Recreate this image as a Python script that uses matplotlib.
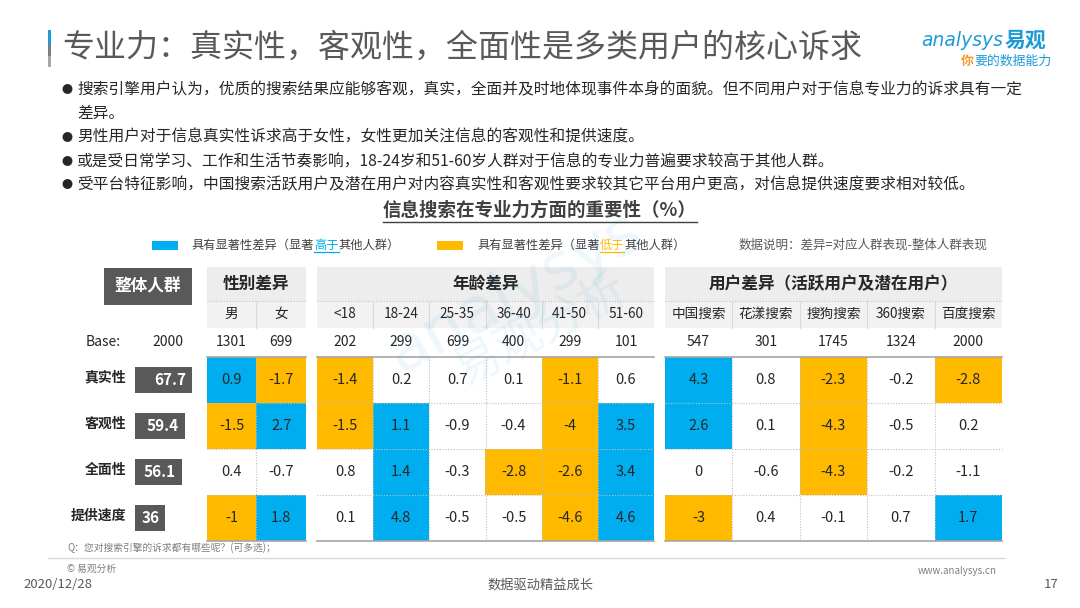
import matplotlib
matplotlib.use('Agg')
import matplotlib.pyplot as plt
from matplotlib.patches import Rectangle
import numpy as np

plt.rcParams['font.family'] = ['Noto Sans CJK SC', 'DejaVu Sans']

# ---------------- data ----------------
title = '专业力：真实性，客观性，全面性是多类用户的核心诉求'
bullets = [
    '搜索引擎用户认为，优质的搜索结果应能够客观，真实，全面并及时地体现事件本身的面貌。但不同用户对于信息专业力的诉求具有一定',
    '男性用户对于信息真实性诉求高于女性，女性更加关注信息的客观性和提供速度。',
    '或是受日常学习、工作和生活节奏影响，18-24岁和51-60岁人群对于信息的专业力普遍要求较高于其他人群。',
    '受平台特征影响，中国搜索活跃用户及潜在用户对内容真实性和客观性要求较其它平台用户更高，对信息提供速度要求相对较低。',
]
bullet1_cont = '差异。'
chart_title = '信息搜索在专业力方面的重要性（%）'

dims = ['真实性', '客观性', '全面性', '提供速度']
overall = [67.7, 59.4, 56.1, 36]
overall_base = 2000

gender_cols = ['男', '女']
gender_base = [1301, 699]
gender_vals = [[0.9, -1.7], [-1.5, 2.7], [0.4, -0.7], [-1, 1.8]]
gender_sig = [[1, -1], [-1, 1], [0, 0], [-1, 1]]

age_cols = ['<18', '18-24', '25-35', '36-40', '41-50', '51-60']
age_base = [202, 299, 699, 400, 299, 101]
age_vals = [[-1.4, 0.2, 0.7, 0.1, -1.1, 0.6],
            [-1.5, 1.1, -0.9, -0.4, -4, 3.5],
            [0.8, 1.4, -0.3, -2.8, -2.6, 3.4],
            [0.1, 4.8, -0.5, -0.5, -4.6, 4.6]]
age_sig = [[-1, 0, 0, 0, -1, 0],
           [-1, 1, 0, 0, -1, 1],
           [0, 1, 0, -1, -1, 1],
           [0, 1, 0, 0, -1, 1]]

user_cols = ['中国搜索', '花漾搜索', '搜狗搜索', '360搜索', '百度搜索']
user_base = [547, 301, 1745, 1324, 2000]
user_vals = [[4.3, 0.8, -2.3, -0.2, -2.8],
             [2.6, 0.1, -4.3, -0.5, 0.2],
             [0, -0.6, -4.3, -0.2, -1.1],
             [-3, 0.4, -0.1, 0.7, 1.7]]
user_sig = [[1, 0, -1, 0, -1],
            [1, 0, -1, 0, 0],
            [0, 0, -1, 0, 0],
            [-1, 0, 0, 0, 1]]

group_titles = ['性别差异', '年龄差异', '用户差异（活跃用户及潜在用户）']

# ---------------- style ----------------
BLUE = '#00AEEF'
ORANGE = '#FFBA00'
DARK = '#595959'
HDR = '#EDEDED'
SUB = '#F2F2F2'
TXT = '#262626'
sig_color = {1: BLUE, -1: ORANGE, 0: 'white'}

fig = plt.figure(figsize=(10.8, 6.08), dpi=100)
fig.patch.set_facecolor('white')
ax = fig.add_axes([0, 0, 1, 1])
ax.set_xlim(0, 1080)
ax.set_ylim(608, 0)
ax.axis('off')
renderer = fig.canvas.get_renderer()


def seq_text(x, y, segments, **kw):
    for s, style in segments:
        st = dict(kw)
        ul = style.pop('underline', False) if style else False
        st.update(style or {})
        t = ax.text(x, y, s, ha='left', va='center', **st)
        w = t.get_window_extent(renderer).width
        if ul:
            ax.plot([x, x + w], [y + 7, y + 7], color=st.get('color', TXT), lw=0.9)
        x += w
    return x

# ---------------- title ----------------
ax.add_patch(Rectangle((47.5, 30), 3.5, 15, fc='#1E9BD7', ec='none'))
ax.add_patch(Rectangle((47.5, 45), 3.5, 11, fc='#7F7F7F', ec='none'))
ax.add_patch(Rectangle((47.5, 56), 3.5, 11, fc='#A6A6A6', ec='none'))
ax.text(62, 48, title, fontsize=23, color='#595959', ha='left', va='center')

# logo
ax.text(921, 41, 'analysys', fontsize=13.5, color='#1E9BD7', ha='left', va='center', style='italic',
        family='DejaVu Sans')
ax.text(1005, 40, '易观', fontsize=15, color='#1E9BD7', ha='left', va='center', fontweight='bold')
seq_text(961, 61, [('你', {'color': '#F39A2B', 'fontweight': 'bold'}), ('要的数据能力', {'color': '#1E9BD7'})],
         fontsize=9.3, style='italic')

# ---------------- bullets ----------------
by = [89.5, 137.5, 161.5, 185]
for yy, b in zip(by, bullets):
    ax.text(67, yy, '●', fontsize=8, color=TXT, ha='center', va='center')
    ax.text(77, yy, b, fontsize=11.3, color=TXT, ha='left', va='center')
ax.text(77, 113.5, bullet1_cont, fontsize=11.3, color=TXT, ha='left', va='center')

# ---------------- chart title ----------------
t = ax.text(540, 210.5, chart_title, fontsize=13.3, fontweight='bold', color='#404040', ha='center', va='center')
w = t.get_window_extent(renderer).width
ax.plot([540 - w / 2, 540 + w / 2], [221.5, 221.5], color='#404040', lw=1)

# ---------------- legend ----------------
ax.add_patch(Rectangle((151.5, 240.5), 26.5, 9, fc=BLUE, ec='none'))
seq_text(191.5, 245, [('具有显著性差异（显著', {}), ('高于', {'color': BLUE, 'underline': True}), ('其他人群）', {})],
         fontsize=8.8, color='#404040')
ax.add_patch(Rectangle((436.5, 240.5), 26.5, 9, fc=ORANGE, ec='none'))
seq_text(477, 245, [('具有显著性差异（显著', {}), ('低于', {'color': ORANGE, 'underline': True}), ('其他人群）', {})],
         fontsize=8.8, color='#404040')
ax.text(739, 245, '数据说明：差异=对应人群表现-整体人群表现', fontsize=9, color='#595959', style='italic',
        ha='left', va='center')

# ---------------- watermark ----------------
ax.text(515, 292, 'analysys', fontsize=46, color='#1E9BD7', alpha=0.08, rotation=28, ha='center', va='center',
        family='DejaVu Sans', zorder=20)
ax.text(540, 330, '易观分析', fontsize=34, color='#1E9BD7', alpha=0.08, rotation=28, ha='center', va='center', zorder=20)

# ---------------- table geometry ----------------
hdr_top, hdr_mid, hdr_bot = 266.5, 301, 327.5
base_y = 341.5
row_top0, row_h = 356.5, 46.1
blocks = [
    dict(cols=gender_cols, base=gender_base, vals=gender_vals, sig=gender_sig, x0=206.7, x1=306.0),
    dict(cols=age_cols, base=age_base, vals=age_vals, sig=age_sig, x0=317.0, x1=654.0),
    dict(cols=user_cols, base=user_base, vals=user_vals, sig=user_sig, x0=664.7, x1=1002.0),
]
n_rows = len(dims)
row_tops = row_top0 + row_h * np.arange(n_rows)
row_ctr = row_tops + row_h / 2
table_bot = row_top0 + row_h * n_rows

# overall block
ax.add_patch(Rectangle((104, 268), 88, 36.5, fc=DARK, ec='none'))
ax.text(148, 286.5, '整体人群', fontsize=12, fontweight='bold', color='white', ha='center', va='center')
ax.text(86, base_y, 'Base:', fontsize=10, color=TXT, ha='left', va='center')
ax.text(168, base_y, str(overall_base), fontsize=10, color=TXT, ha='center', va='center')
scale = 0.84
ax.barh(row_ctr, np.array(overall) * scale, left=135, height=26, color=DARK)
for yy, v, d in zip(row_ctr, overall, dims):
    ax.text(135 + v * scale - 6, yy, f'{v:g}', fontsize=11, fontweight='bold', color='white', ha='right', va='center')
    ax.text(126, yy - 2, d, fontsize=10, fontweight='bold', color=TXT, ha='right', va='center')

for blk, gt in zip(blocks, group_titles):
    x0, x1 = blk['x0'], blk['x1']
    nc = len(blk['cols'])
    cw = (x1 - x0) / nc
    cx = x0 + cw * (np.arange(nc) + 0.5)
    # header
    ax.add_patch(Rectangle((x0, hdr_top), x1 - x0, hdr_mid - hdr_top, fc=HDR, ec='none'))
    ax.add_patch(Rectangle((x0, hdr_mid), x1 - x0, hdr_bot - hdr_mid, fc=SUB, ec='none'))
    ax.plot([x0, x1], [hdr_mid, hdr_mid], color='#BFBFBF', lw=0.8, ls=(0, (1, 1.5)))
    ax.text((x0 + x1) / 2, (hdr_top + hdr_mid) / 2, gt, fontsize=12, fontweight='bold', color=TXT,
            ha='center', va='center')
    for j, c in enumerate(blk['cols']):
        ax.text(cx[j], (hdr_mid + hdr_bot) / 2, c, fontsize=9.8, color=TXT, ha='center', va='center')
        ax.text(cx[j], base_y, str(blk['base'][j]), fontsize=10, color=TXT, ha='center', va='center')
        if j > 0:
            xe = x0 + cw * j
            ax.plot([xe, xe], [hdr_mid, hdr_bot], color='#D9D9D9', lw=0.8)
    # cells
    for i in range(n_rows):
        colors = [sig_color[s] for s in blk['sig'][i]]
        ax.bar(cx, row_h, bottom=row_tops[i], width=cw, color=colors, linewidth=0, zorder=2)
        for j, v in enumerate(blk['vals'][i]):
            ax.text(cx[j], row_ctr[i], f'{v:g}', fontsize=10.5, color=TXT, ha='center', va='center', zorder=4)
    # grid
    for i in range(1, n_rows):
        yy = row_top0 + row_h * i
        ax.plot([x0, x1], [yy, yy], color='#BFBFBF', lw=0.8, ls=(0, (1, 1.5)), zorder=3)
    for j in range(1, nc):
        xe = x0 + cw * j
        ax.plot([xe, xe], [row_top0, table_bot], color='#BFBFBF', lw=0.8, ls=(0, (1, 1.5)), zorder=3)
    ax.plot([x0, x1], [row_top0, row_top0], color='#A6A6A6', lw=1.2, zorder=3)
    ax.plot([x0, x1], [table_bot, table_bot], color='#A6A6A6', lw=1.2, zorder=3)

# ---------------- footer ----------------
ax.text(67, 548, 'Q：您对搜索引擎的诉求都有哪些呢？(可多选)；', fontsize=7, color='#7F7F7F', ha='left', va='center')
ax.plot([48, 1005], [558, 558], color='#D9D9D9', lw=1)
ax.text(67, 569, '© 易观分析', fontsize=7, color='#7F7F7F', ha='left', va='center')
ax.text(997, 571, 'www.analysys.cn', fontsize=7, color='#7F7F7F', ha='right', va='center')
ax.text(23, 585, '2020/12/28', fontsize=9.5, color='#595959', ha='left', va='center')
ax.text(540, 585, '数据驱动精益成长', fontsize=9.5, color='#595959', ha='center', va='center')
ax.text(1059, 585, '17', fontsize=9.5, color='#595959', ha='right', va='center')

fig.savefig('out.png', dpi=100)
